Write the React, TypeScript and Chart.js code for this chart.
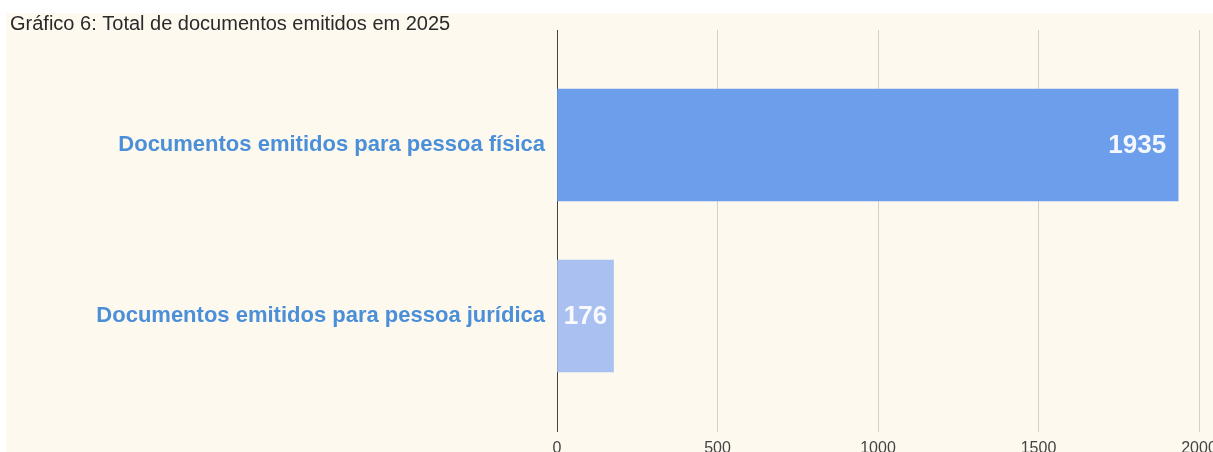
import React, { useEffect, useRef } from "react";
import { Chart, registerables } from "chart.js";

Chart.register(...registerables);

const TITLE = "Gráfico 6: Total de documentos emitidos em 2025";
const categories = [
  "Documentos emitidos para pessoa física",
  "Documentos emitidos para pessoa jurídica",
];
const values = [1935, 176];
const barColors = ["#6d9eeb", "#a9c0f0"];
const xTicks = [0, 500, 1000, 1500, 2000];

const valueLabels = {
  id: "valueLabels",
  afterDatasetsDraw(chart: any) {
    const ctx = chart.ctx;
    const meta = chart.getDatasetMeta(0);
    ctx.save();
    ctx.font = "bold 26px Arial, 'Liberation Sans', sans-serif";
    ctx.fillStyle = "rgba(255,255,255,0.92)";
    ctx.textBaseline = "middle";
    meta.data.forEach((bar: any, i: number) => {
      const text = String(values[i]);
      const w = ctx.measureText(text).width;
      const left = bar.base;
      const right = bar.x;
      const pad = 12;
      if (right - left >= w + 2 * pad) {
        ctx.textAlign = "right";
        ctx.fillText(text, right - pad, bar.y + 1);
      } else {
        ctx.textAlign = "center";
        ctx.fillText(text, (left + right) / 2, bar.y + 1);
      }
    });
    ctx.restore();
  },
};

const titlePlugin = {
  id: "titleText",
  afterDraw(chart: any) {
    const ctx = chart.ctx;
    ctx.save();
    ctx.font = "20px Arial, 'Liberation Sans', sans-serif";
    ctx.fillStyle = "#2a2a2a";
    ctx.textAlign = "left";
    ctx.textBaseline = "alphabetic";
    ctx.fillText(TITLE, 4, 17);
    ctx.restore();
  },
};

export default function App() {
  const ref = useRef<HTMLCanvasElement | null>(null);
  useEffect(() => {
    if (!ref.current) return;
    const chart = new Chart(ref.current, {
      type: "bar",
      data: {
        datasets: [
          {
            data: values.map((v, i) => ({ x: v, y: i })),
            backgroundColor: barColors,
            barThickness: 112,
            borderWidth: 0,
          },
        ],
      },
      options: {
        indexAxis: "y",
        animation: false,
        responsive: false,
        maintainAspectRatio: false,
        layout: { padding: { top: 17, right: 14, left: 0, bottom: 0 } },
        plugins: {
          legend: { display: false },
          tooltip: { enabled: false },
          title: { display: false },
        },
        scales: {
          x: {
            type: "linear",
            min: 0,
            max: 2000,
            afterBuildTicks: (s: any) => {
              s.ticks = xTicks.map((v) => ({ value: v }));
            },
            afterFit: (s: any) => {
              s.height = 20;
              s.paddingLeft = 0;
              s.paddingRight = 0;
            },
            grid: {
              color: (c: any) => (c.tick && c.tick.value === 0 ? "#444" : "#d0d0d0"),
              lineWidth: 1,
              drawTicks: false,
            },
            border: { display: false },
            ticks: {
              padding: 7,
              color: "#444",
              font: { family: "Arial, 'Liberation Sans', sans-serif", size: 16 },
              maxRotation: 0,
              autoSkip: false,
              callback: (v: any) => String(v),
            },
          },
          y: {
            type: "linear",
            reverse: true,
            offset: false,
            min: -0.6725,
            max: 1.678,
            afterBuildTicks: (s: any) => {
              s.ticks = categories.map((_, i) => ({ value: i }));
            },
            afterFit: (s: any) => {
              s.width = 551;
              s.paddingTop = 0;
              s.paddingBottom = 0;
            },
            grid: { display: false, drawTicks: false, offset: false },
            border: { display: false },
            ticks: {
              padding: 12,
              color: "#4a8fd8",
              font: { family: "Arial, 'Liberation Sans', sans-serif", size: 22, weight: "bold" },
              callback: (v: any) => {
                const i = Math.round(Number(v));
                return Math.abs(Number(v) - i) < 1e-6 && categories[i] ? categories[i] : "";
              },
            },
          },
        },
      },
      plugins: [valueLabels, titlePlugin],
    } as any);
    return () => chart.destroy();
  }, []);

  return (
    <div
      style={{
        position: "absolute",
        left: 0,
        top: 0,
        width: 1213,
        height: 452,
        background: "#ffffff",
        overflow: "hidden",
      }}
    >
      <div
        style={{
          position: "absolute",
          left: 6,
          top: 13,
          width: 1207,
          height: 439,
          background: "#fdf9ef",
        }}
      >
        <canvas ref={ref} width={1207} height={439} style={{ display: "block" }} />
      </div>
    </div>
  );
}
